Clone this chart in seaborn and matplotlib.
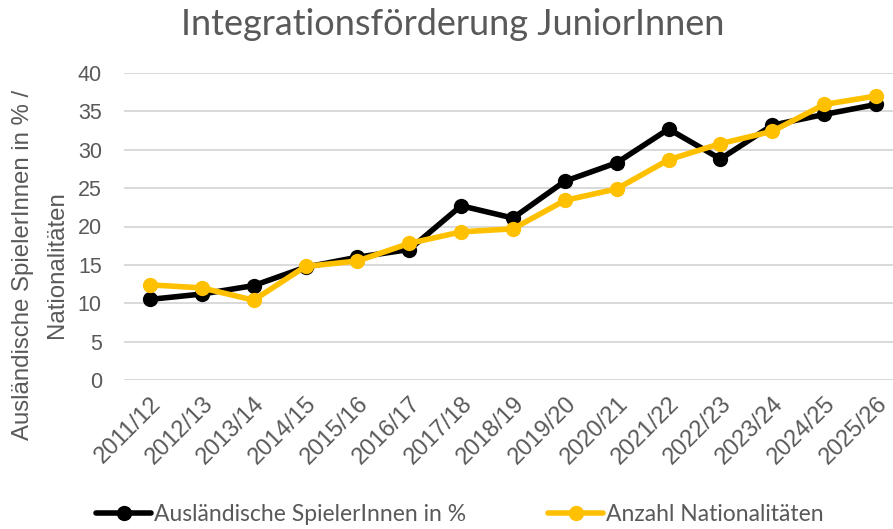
import pandas as pd
import matplotlib.pyplot as plt
import seaborn as sns

seasons = ['2011/12', '2012/13', '2013/14', '2014/15', '2015/16', '2016/17', '2017/18',
           '2018/19', '2019/20', '2020/21', '2021/22', '2022/23', '2023/24', '2024/25', '2025/26']
auslaender_pct = [10.5, 11.2, 12.3, 14.7, 16.0, 17.0, 22.7, 21.1, 25.9, 28.3, 32.7, 28.8, 33.2, 34.6, 35.9]
nationalitaeten = [12.4, 12.0, 10.4, 14.8, 15.5, 17.8, 19.3, 19.7, 23.4, 24.9, 28.7, 30.8, 32.4, 35.9, 37.0]
series_names = ['Ausländische SpielerInnen in %', 'Anzahl Nationalitäten']

df = pd.DataFrame({
    'Saison': seasons * 2,
    'Wert': auslaender_pct + nationalitaeten,
    'Serie': [series_names[0]] * len(seasons) + [series_names[1]] * len(seasons),
})

sns.set_style('white')
plt.rcParams['font.family'] = ['Lato', 'DejaVu Sans']
grey = '#595959'
axis_font = 'Liberation Sans'

fig = plt.figure(figsize=(8.93, 5.29), dpi=100)
ax = fig.add_axes([124 / 893, 1 - 380 / 529, (902 - 124) / 893, (380 - 73) / 529])

sns.lineplot(data=df, x='Saison', y='Wert', hue='Serie', palette=['#000000', '#FFC000'],
             marker='o', markersize=11, markeredgewidth=0, linewidth=4, sort=False, ax=ax)

ax.set_xlim(-0.5, len(seasons) - 0.5)
ax.set_ylim(0, 40)
ax.set_yticks(range(0, 41, 5))
ax.grid(axis='y', color='#d9d9d9', linewidth=1.4)
ax.set_axisbelow(True)
for s in ax.spines.values():
    s.set_visible(False)

ax.tick_params(axis='y', labelsize=15.5, colors=grey, pad=16, length=0)
ax.tick_params(axis='x', labelsize=17, colors=grey, length=0, pad=9)
for lbl in ax.get_yticklabels():
    lbl.set_fontfamily(axis_font)
plt.setp(ax.get_xticklabels(), rotation=45, ha='right', rotation_mode='anchor', fontfamily=axis_font)

ax.set_xlabel('')
ax.set_ylabel('')
fig.text(40 / 893, 1 - 265 / 529, 'Ausländische SpielerInnen in % /\nNationalitäten',
         rotation=90, ha='center', va='center', multialignment='center',
         fontsize=17.3, color=grey, fontfamily=axis_font, linespacing=1.65)

fig.text(0.507, 0.953, 'Integrationsförderung JuniorInnen', ha='center', va='center',
         fontsize=26, color=grey)

handles, labels = ax.get_legend_handles_labels()
ax.get_legend().remove()
fig.legend(handles, labels, loc='center', bbox_to_anchor=(0.515, 0.028), ncol=2, frameon=False,
           fontsize=16.5, labelcolor=grey, handlelength=2.4, handletextpad=0.1, columnspacing=3.6,
           borderpad=0.1)

fig.savefig('out.png', dpi=100)
